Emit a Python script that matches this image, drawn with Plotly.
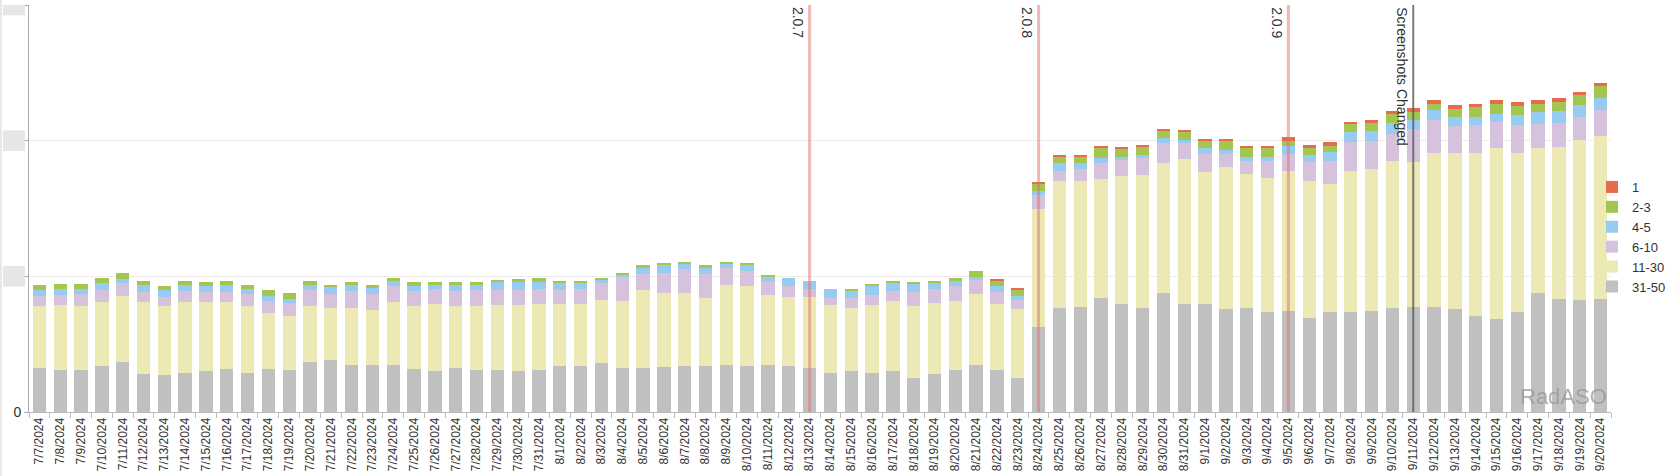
import pandas as pd
import plotly.graph_objects as go

dates = [f"{d.month}/{d.day}/{d.year}" for d in pd.date_range("2024-07-07", "2024-09-20")]

rank_31_50 = [16.3, 15.4, 15.4, 16.9, 18.4, 14.0, 13.5, 14.3, 15.0, 15.8, 14.3, 15.8, 15.4, 18.4, 19.0,
              17.3, 17.3, 17.3, 15.8, 15.0, 16.3, 15.4, 15.4, 15.0, 15.4, 16.9, 16.9, 17.9, 16.3, 16.3,
              16.5, 17.0, 17.0, 17.4, 17.0, 17.4, 17.0, 16.4, 14.5, 15.0, 14.5, 15.0, 12.6, 14.1, 15.6,
              17.4, 15.4, 12.4, 31.4, 38.3, 38.7, 41.9, 39.7, 38.3, 43.8, 39.8, 39.8, 37.9, 38.2, 36.8,
              37.4, 34.8, 36.8, 36.8, 37.3, 38.2, 38.7, 38.7, 37.9, 35.3, 34.3, 36.8, 43.8, 41.8, 41.3, 41.7]
rank_11_30 = [22.7, 23.9, 23.6, 23.5, 24.5, 26.4, 25.5, 26.1, 25.4, 24.6, 24.7, 20.6, 20.1, 20.6, 19.3,
              21.2, 20.3, 23.1, 23.2, 24.8, 22.7, 23.6, 24.1, 24.5, 24.4, 23.0, 22.9, 23.5, 24.6, 28.6,
              27.4, 27.0, 25.0, 29.4, 29.4, 25.6, 25.4, 26.0, 25.0, 23.5, 25.0, 25.9, 26.5, 25.9, 25.3,
              26.0, 24.4, 25.6, 43.5, 47.0, 46.6, 43.8, 47.1, 49.0, 47.9, 53.3, 48.6, 52.4, 49.5, 49.5,
              51.3, 50.5, 47.3, 51.9, 52.4, 54.4, 53.5, 56.9, 57.7, 60.3, 62.9, 58.8, 53.4, 55.7, 58.9, 60.0]
rank_6_10 = [3.8, 4.0, 4.4, 4.6, 4.5, 3.8, 3.4, 4.1, 3.8, 3.9, 4.4, 4.4, 4.8, 5.9, 5.1,
             6.0, 5.8, 5.9, 5.5, 5.4, 5.7, 6.0, 5.4, 5.4, 5.5, 5.0, 5.5, 6.4, 9.0, 5.8,
             7.5, 8.6, 8.8, 6.1, 5.4, 4.9, 4.0, 3.1, 2.5, 3.4, 3.5, 3.6, 5.3, 5.3, 5.5,
             5.4, 4.6, 3.3, 4.9, 3.7, 4.3, 6.1, 6.1, 6.3, 7.4, 6.0, 6.7, 4.8, 4.9, 6.3,
             6.4, 6.9, 8.5, 10.7, 10.3, 10.0, 12.1, 12.0, 9.9, 10.1, 9.8, 10.1, 8.9, 9.0, 8.4, 9.7]
rank_4_5 = [2.1, 2.0, 1.8, 2.4, 1.5, 2.7, 2.5, 2.3, 2.1, 2.6, 2.1, 2.0, 1.5, 2.0, 2.6,
            2.2, 2.3, 2.0, 1.8, 1.6, 2.1, 1.8, 3.0, 3.0, 2.7, 2.5, 2.2, 0.7, 0.9, 2.5,
            2.8, 2.3, 2.6, 1.9, 2.4, 1.8, 2.9, 2.8, 3.3, 2.7, 3.7, 3.3, 2.9, 2.1, 1.9,
            0.9, 2.0, 1.6, 1.6, 2.9, 2.1, 1.7, 1.1, 1.3, 1.9, 1.1, 2.1, 1.5, 1.5, 1.3,
            2.8, 2.5, 3.1, 3.7, 3.7, 4.0, 3.5, 3.8, 3.3, 2.9, 3.0, 3.9, 4.3, 4.5, 4.4, 4.2]
rank_2_3 = [2.0, 2.0, 2.1, 1.9, 2.3, 1.5, 1.4, 1.6, 1.5, 1.5, 1.4, 2.2, 2.1, 1.5, 0.9,
            1.2, 1.1, 1.0, 1.5, 1.0, 1.0, 1.0, 0.9, 1.0, 1.3, 1.0, 0.9, 0.8, 0.6, 1.0,
            0.6, 0.5, 0.6, 0.6, 0.6, 0.8, 0.0, 0.0, 0.0, 0.9, 0.2, 0.3, 0.5, 0.9, 1.0,
            2.1, 2.1, 2.4, 2.9, 2.3, 2.5, 3.8, 3.2, 2.9, 2.7, 3.0, 3.0, 3.5, 3.2, 3.4,
            2.1, 2.6, 2.3, 3.0, 2.9, 3.4, 2.9, 2.2, 2.9, 3.7, 3.6, 3.2, 3.2, 3.2, 3.7, 4.4]
rank_1 = [0.0] * 46 + [0.4, 0.5, 0.5, 0.5, 0.5, 0.5, 0.5, 0.4, 0.5, 0.5, 0.5, 0.6, 0.9, 0.7,
                       1.5, 1.2, 1.6, 0.9, 0.9, 1.0, 1.3, 1.5, 1.4, 1.3, 1.5, 1.4, 1.5, 1.4, 1.4, 1.1]

series = [
    ("31-50", rank_31_50, "#c1c0c1"),
    ("11-30", rank_11_30, "#ede9b4"),
    ("6-10", rank_6_10, "#d6c2dc"),
    ("4-5", rank_4_5, "#97cbf1"),
    ("2-3", rank_2_3, "#a3c650"),
    ("1", rank_1, "#e8694b"),
]

events = [("8/13/2024", "2.0.7", "rgba(226,110,110,0.5)", 3),
          ("8/24/2024", "2.0.8", "rgba(226,110,110,0.5)", 3),
          ("9/5/2024", "2.0.9", "rgba(226,110,110,0.5)", 3),
          ("9/11/2024", "Screenshots Changed", "rgba(90,90,90,0.8)", 2)]

y_ticks = [0, 50, 100, 150]

fig = go.Figure()
for name, vals, color in series:
    fig.add_trace(go.Bar(x=dates, y=vals, name=name, marker=dict(color=color, line=dict(width=0))))

for d, label, color, w in events:
    fig.add_shape(type="line", xref="x", yref="paper", x0=d, x1=d, y0=0, y1=1,
                  line=dict(color=color, width=w), layer="above")
    fig.add_annotation(x=d, y=1, xref="x", yref="paper", text=label, textangle=90,
                       xanchor="right", yanchor="top", showarrow=False, xshift=-1,
                       font=dict(family="Liberation Sans, Arial", size=14, color="#333"))

# obscured y tick labels
for v in y_ticks[1:]:
    fig.add_shape(type="rect", xref="paper", yref="y", x0=-0.0165, x1=-0.0025,
                  y0=v - 3.8, y1=v + 3.8, fillcolor="#e6e6e6", line=dict(width=0), layer="above")

fig.add_shape(type="line", xref="paper", yref="paper", x0=-0.0177, x1=-0.0177, y0=-0.16, y1=1.02,
              line=dict(color="#d0d0d0", width=1))

fig.add_annotation(x=1, y=0, xref="paper", yref="paper", text="RadASO", showarrow=False,
                   xanchor="right", yanchor="bottom", xshift=-2, yshift=1,
                   font=dict(family="Liberation Sans, Arial", size=22, color="rgba(150,150,150,0.75)"))

fig.update_layout(
    barmode="stack",
    bargap=0.36,
    width=1668, height=476,
    margin=dict(l=29, r=57, t=5, b=64, autoexpand=False),
    paper_bgcolor="white", plot_bgcolor="white",
    font=dict(family="Liberation Sans, Arial", color="#333"),
    showlegend=True,
    legend=dict(traceorder="reversed", x=0.988, xanchor="left", y=0.43, yanchor="middle",
                font=dict(size=13, color="#333"), itemwidth=30, tracegroupgap=0,
                bgcolor="rgba(0,0,0,0)"),
    xaxis=dict(type="category", tickangle=-90, tickson="boundaries", ticks="outside",
               ticklen=5, tickcolor="#bbb", showline=True, linecolor="#bbb",
               tickfont=dict(size=12, color="#333"), showgrid=False),
    yaxis=dict(range=[0, 150], tickvals=y_ticks, ticktext=["0", "", "", ""],
               showgrid=True, gridcolor="#ececec", showline=True, linecolor="#aaa",
               ticks="outside", ticklen=4, tickcolor="#aaa", zeroline=False,
               tickfont=dict(size=14, color="#333")),
)

fig.write_html("out.html", config={"displayModeBar": False},
               post_script="document.body.style.margin='0';document.body.style.overflow='hidden';")
